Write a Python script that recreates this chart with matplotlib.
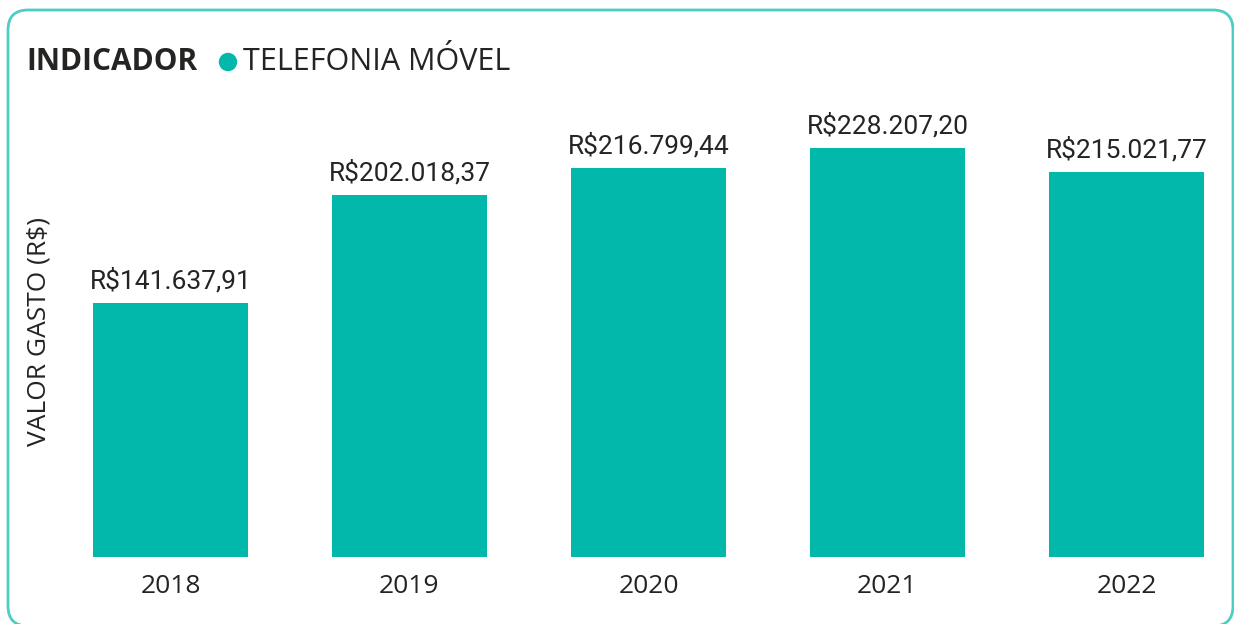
import matplotlib
matplotlib.use("Agg")
import matplotlib.pyplot as plt
from matplotlib.patches import FancyBboxPatch, Circle

anos = ["2018", "2019", "2020", "2021", "2022"]
valores = [141637.91, 202018.37, 216799.44, 228207.20, 215021.77]
rotulos = ["R$141.637,91", "R$202.018,37", "R$216.799,44", "R$228.207,20", "R$215.021,77"]

cor_barra = "#01B8AA"
cor_texto = "#252423"

W, H = 1234, 624
fig = plt.figure(figsize=(W / 100, H / 100), dpi=100)

# camada em pixels para moldura e legenda
fundo = fig.add_axes([0, 0, 1, 1])
fundo.set_xlim(0, W)
fundo.set_ylim(0, H)
fundo.axis("off")
# moldura: y em pixels a partir de baixo
fundo.add_patch(FancyBboxPatch((8, -2), 1225, H - 10 + 2,
                               boxstyle="round,pad=0,rounding_size=20",
                               fill=False, edgecolor="#4ECDC4", linewidth=2,
                               clip_on=False))
fundo.add_patch(Circle((228, H - 62), 8.5, color=cor_barra))
fundo.text(26, H - 62, "INDICADOR", ha="left", va="center", fontsize=21.5,
           family="Open Sans", fontweight="bold", color=cor_texto)
fundo.text(243, H - 62, "TELEFONIA MÓVEL", ha="left", va="center", fontsize=22,
           family="Open Sans", color=cor_texto)
fundo.text(39, H - 332, "VALOR GASTO (R$)", rotation=90, ha="center",
           va="center", fontsize=19, family="Open Sans", color=cor_texto)

# area do grafico (pixels)
px_esq, px_dir = 60, 1220
px_base, px_topo = 557, 110
ax = fig.add_axes([px_esq / W, (H - px_base) / H,
                   (px_dir - px_esq) / W, (px_base - px_topo) / H])
ax.patch.set_alpha(0)

passo = 239.0
centro0 = 170.5
ax.set_xlim((px_esq - centro0) / passo, (px_dir - centro0) / passo)
escala = 228207.20 / 409.0
ax.set_ylim(0, (px_base - px_topo) * escala)

x = range(len(anos))
ax.bar(x, valores, width=155 / passo, color=cor_barra)

for i, v in enumerate(valores):
    ax.annotate(rotulos[i], (i, v), xytext=(0, 10.5), textcoords="offset points",
                ha="center", va="baseline", fontsize=19, family="Roboto",
                color=cor_texto)

ax.set_xticks(list(x))
ax.set_xticklabels(anos, fontsize=19, family="Open Sans", color=cor_texto)
ax.tick_params(axis="x", length=0, pad=12.5)
ax.set_yticks([])
for s in ax.spines.values():
    s.set_visible(False)

fig.savefig("out.png", dpi=100)
